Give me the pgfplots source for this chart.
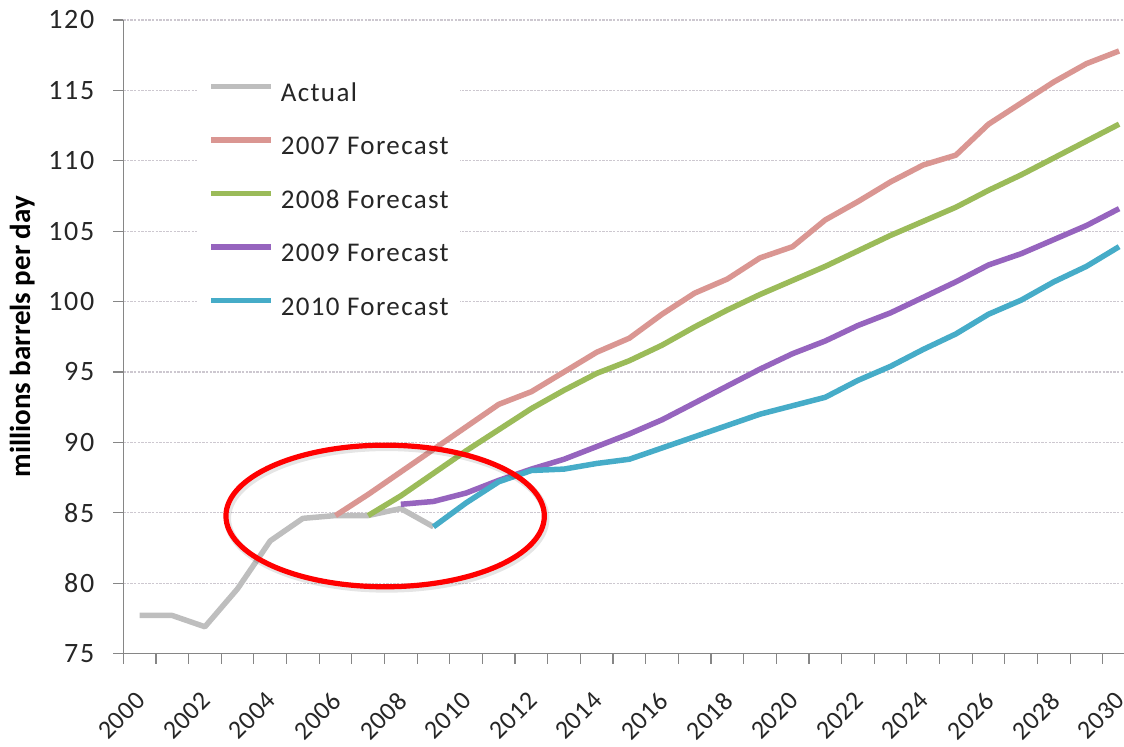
\documentclass[border=0pt]{standalone}
\usepackage{fontspec}
\setmainfont{Carlito}
\usepackage{pgfplots}
\pgfplotsset{compat=1.18}
\definecolor{cActual}{RGB}{190,190,190}
\definecolor{c2007}{RGB}{218,150,146}
\definecolor{c2008}{RGB}{155,187,89}
\definecolor{c2009}{RGB}{150,100,190}
\definecolor{c2010}{RGB}{70,172,200}
\definecolor{axgray}{RGB}{134,134,134}
\definecolor{gridc}{RGB}{205,200,208}
\begin{document}
\begin{tikzpicture}
\begin{axis}[
  scale only axis,
  width=500.35pt, height=316.75pt,
  xmin=1999.5, xmax=2030.15,
  ymin=75, ymax=120,
  axis x line*=bottom, axis y line*=left,
  axis line style={axgray, line width=0.6pt},
  ytick={75,80,...,120},
  xtick={2000,2002,...,2030},
  minor xtick={1999.5,2000.5,...,2029.5},
  tick align=outside,
  major tick length=5pt, minor tick length=5pt,
  major x tick style={draw=none},
  minor x tick style={axgray, line width=0.6pt},
  major y tick style={axgray, line width=0.6pt},
  ymajorgrids,
  grid style={gridc, line width=0.6pt, dash pattern=on 1.2pt off 0.6pt},
  /pgf/number format/assume math mode=true,
  /pgf/number format/1000 sep={},
  yticklabel style={font=\fontsize{14pt}{16pt}\selectfont\addfontfeatures{LetterSpace=6}, text=black!85, xshift=-6pt},
  xticklabel style={xshift=-2.5pt, yshift=-8.5pt, rotate=45, anchor=north east, font=\fontsize{13pt}{15pt}\selectfont\addfontfeatures{LetterSpace=2}, text=black!85},
  ylabel={millions barrels per day},
  every axis y label/.style={at={(ticklabel cs:0.5)}, rotate=90, anchor=near ticklabel, font=\fontsize{14.5pt}{17pt}\selectfont\bfseries, text=black},
  legend style={at={(axis description cs:0.0736,0.921)}, anchor=north west,
    draw=none, fill=white, inner xsep=5.5pt, inner ysep=6.5pt,
    row sep=15.25pt, column sep=3.5pt,
    font=\fontsize{13.5pt}{16pt}\selectfont\addfontfeatures{LetterSpace=5},
    nodes={inner sep=0pt, text height=9pt, text depth=2.5pt, text=black!85}},
  legend cell align=left,
  legend image code/.code={\draw[#1, line width=2.75pt] (0pt,4.3pt) -- (30pt,4.3pt);},
  every axis plot/.append style={line width=2.75pt, line join=round, no markers},
  clip=true,
]
\addplot[cActual] coordinates {
(2000,77.7) (2001,77.7) (2002,76.9) (2003,79.6) (2004,83.0) (2005,84.6)
(2006,84.8) (2007,84.8) (2008,85.3) (2009,84.0)};
\addlegendentry{Actual}
\addplot[c2007] coordinates {
(2006,84.8) (2007,86.3) (2008,87.9) (2009,89.5) (2010,91.1) (2011,92.7)
(2012,93.6) (2013,95.0) (2014,96.4) (2015,97.4) (2016,99.1) (2017,100.6)
(2018,101.6) (2019,103.1) (2020,103.9) (2021,105.8) (2022,107.1) (2023,108.5)
(2024,109.7) (2025,110.4) (2026,112.6) (2027,114.1) (2028,115.6) (2029,116.9) (2030,117.8)};
\addlegendentry{2007 Forecast}
\addplot[c2008] coordinates {
(2007,84.8) (2008,86.2) (2009,87.8) (2010,89.4) (2011,90.9) (2012,92.4)
(2013,93.7) (2014,94.9) (2015,95.8) (2016,96.9) (2017,98.2) (2018,99.4)
(2019,100.5) (2020,101.5) (2021,102.5) (2022,103.6) (2023,104.7) (2024,105.7)
(2025,106.7) (2026,107.9) (2027,109.0) (2028,110.2) (2029,111.4) (2030,112.6)};
\addlegendentry{2008 Forecast}
\addplot[c2009] coordinates {
(2008,85.6) (2009,85.8) (2010,86.4) (2011,87.3) (2012,88.1) (2013,88.8)
(2014,89.7) (2015,90.6) (2016,91.6) (2017,92.8) (2018,94.0) (2019,95.2)
(2020,96.3) (2021,97.2) (2022,98.3) (2023,99.2) (2024,100.3) (2025,101.4)
(2026,102.6) (2027,103.4) (2028,104.4) (2029,105.4) (2030,106.6)};
\addlegendentry{2009 Forecast}
\addplot[c2010] coordinates {
(2009,84.0) (2010,85.7) (2011,87.2) (2012,88.0) (2013,88.1) (2014,88.5)
(2015,88.8) (2016,89.6) (2017,90.4) (2018,91.2) (2019,92.0) (2020,92.6)
(2021,93.2) (2022,94.4) (2023,95.4) (2024,96.6) (2025,97.7) (2026,99.1)
(2027,100.1) (2028,101.4) (2029,102.5) (2030,103.9)};
\addlegendentry{2010 Forecast}
\draw[black, opacity=0.10, line width=3.5pt] ([xshift=0.8pt,yshift=-1.2pt]axis cs:2007.52,84.77) ellipse [x radius=79.6pt, y radius=35.4pt];
\draw[red, line width=2.6pt] (axis cs:2007.52,84.77) ellipse [x radius=79.6pt, y radius=35.4pt];
\end{axis}
\pgfresetboundingbox
\path (-61.65pt,-46.25pt) rectangle (500.35pt,326.75pt);
\end{tikzpicture}
\end{document}
